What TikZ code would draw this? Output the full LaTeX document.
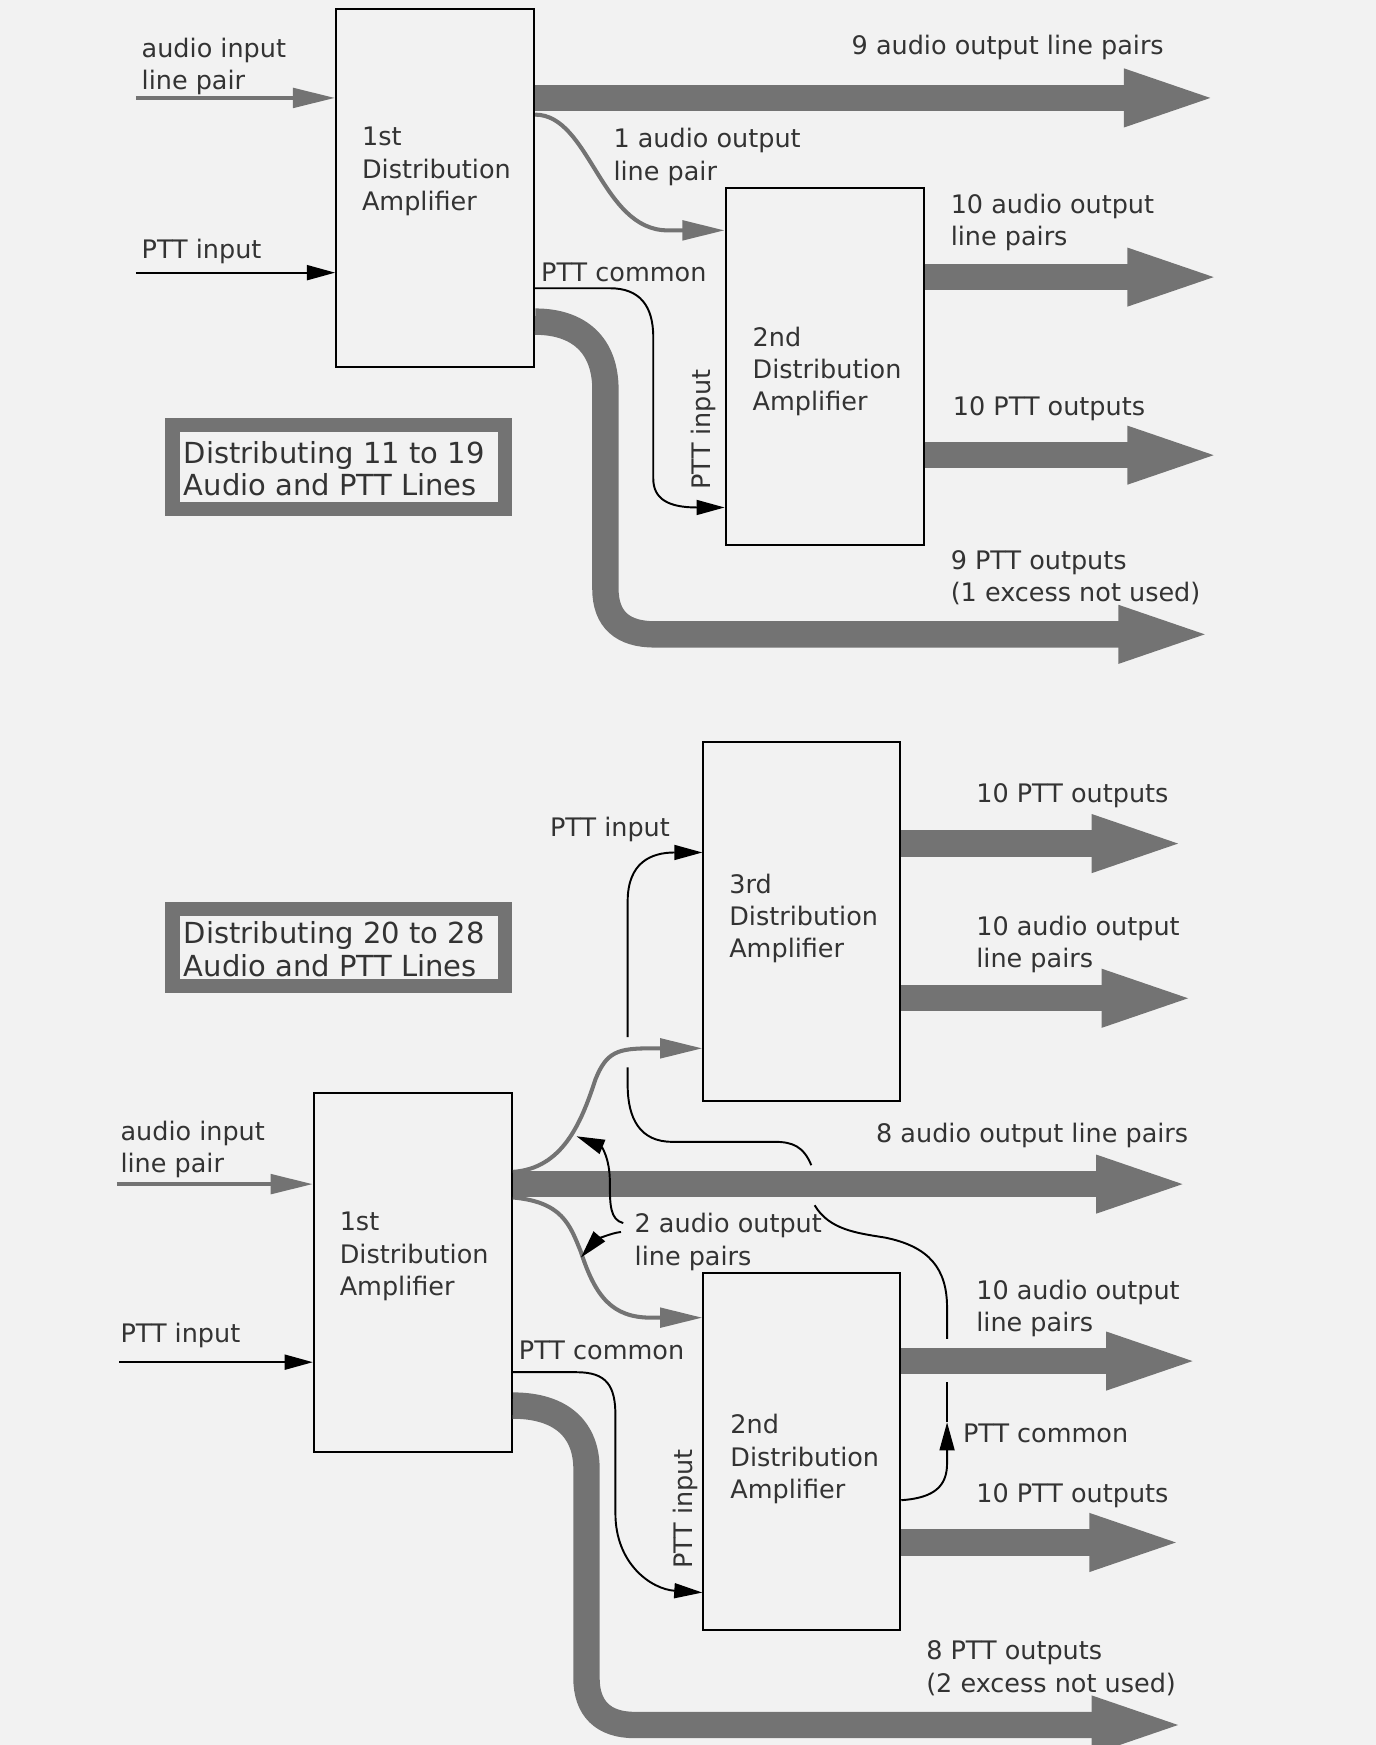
\documentclass[tikz,border=0pt]{standalone}
\usepackage{fontspec}
\setmainfont{DejaVu Sans}
\usetikzlibrary{arrows.meta, fit, positioning}
\definecolor{hatch}{gray}{0.45}
\definecolor{paper}{gray}{0.95}
\tikzset{
    x=0.02225cm, y=-0.02225cm, % one unit is one pixel of the sketch, y runs down
    dabox/.style={draw, line width=1.1pt, inner sep=0pt}, % the amplifier boxes
    lbl/.style={font=\fontsize{14.5}{18.3}\selectfont, text=black!80, align=left, inner sep=0pt, anchor=west},
    seltext/.style={font=\fontsize{16.5}{18.5}\selectfont, text=black!80, align=left, inner sep=0pt, anchor=west},
    selbox/.style={draw=hatch, line width=8pt, fill=paper, inner sep=0pt}, % framed titles
    wide/.style={draw=hatch, line width=15pt, -{Triangle[length=57pt, width=28pt]}}, % bundles
    thinhatch/.style={draw=hatch, line width=2.3pt, -{Triangle[length=24pt, width=11pt]}},
    sig/.style={draw, line width=1.1pt, -{Triangle[length=16pt, width=8.5pt]}}, % PTT lines
    wire/.style={draw, line width=1.1pt},
}

\begin{document}
\begin{tikzpicture}
\useasboundingbox (0,0) rectangle (1236,1568);
\fill[paper] (0,0) rectangle (1236,1568);

% first group: 11 to 19
\node[dabox, fit={(302,8) (480,330)}] (da1) {};
\node[dabox, fit={(652,169) (830,490)}] (da2) {};
\node[lbl] (da1t) at (325,154) {1st\\Distribution\\Amplifier};
\node[lbl] (da2t) at (676,334) {2nd\\Distribution\\Amplifier};
\node[selbox, fit={(155,382) (454,457)}] (sel1) {};
\node[seltext] (sel1t) at (165,421) {Distributing 11 to 19\\Audio and PTT Lines};

\node[lbl] (ain1) at (127,60) {audio input\\line pair};
\node[lbl] (pin1) at (127,226) {PTT input};
\node[lbl] (o9at) at (765,43) {9 audio output line pairs};
\node[lbl] (o1at) at (551,141) {1 audio output\\line pair};
\node[lbl] (pc1t) at (486,245) {PTT common};
\node[lbl, rotate=90, anchor=center] (pin2) at (632,386) {PTT input};
\node[lbl] (o10a2t) at (854,200) {10 audio output\\line pairs};
\node[lbl] (o10p2t) at (856,367) {10 PTT outputs};
\node[lbl] (o9pt) at (854,519) {9 PTT outputs\\(1 excess not used)};

\coordinate (ai1) at (122,88);
\coordinate (pi1) at (122,245);
\coordinate (o9a) at (1100,88);
\coordinate (o10a2) at (1103,249);
\coordinate (o10p2) at (1103,409);
\coordinate (o9p) at (1095,570);

\draw[wide] (da1.east |- 0,88) -- (o9a);
\draw[wide] (da2.east |- 0,249) -- (o10a2);
\draw[wide] (da2.east |- 0,409) -- (o10p2);
\draw[wide] (da1.east |- 0,289) .. controls (520,289) and (544,310) .. (544,350)
    -- (544,529) .. controls (544,557) and (560,570) .. (588,570) -- (o9p);
\draw[thinhatch] (ai1) -- (da1.west |- ai1);
\draw[thinhatch] (da1.east |- 0,103) .. controls (530,103) and (540,207) .. (600,207) -- (da2.west |- 0,207);
\draw[sig] (pi1) -- (da1.west |- pi1);
\draw[sig] (da1.east |- 0,259) -- (548,259) .. controls (575,259) and (587,275) .. (587,303)
    -- (587,430) .. controls (587,448) and (600,456) .. (da2.west |- 0,456);

% second group: 20 to 28
\node[dabox, fit={(632,667) (809,989)}] (da3) {};
\node[dabox, fit={(282,982) (460,1305)}] (da4) {};
\node[dabox, fit={(632,1144) (809,1465)}] (da5) {};
\node[lbl] (da3t) at (655,825) {3rd\\Distribution\\Amplifier};
\node[lbl] (da4t) at (305,1129) {1st\\Distribution\\Amplifier};
\node[lbl] (da5t) at (656,1311) {2nd\\Distribution\\Amplifier};
\node[selbox, fit={(155,817) (454,886)}] (sel2) {};
\node[seltext] (sel2t) at (165,853) {Distributing 20 to 28\\Audio and PTT Lines};

\node[lbl] (pin3) at (494,745) {PTT input};
\node[lbl] (o10p3t) at (877,715) {10 PTT outputs};
\node[lbl] (o10a3t) at (877,849) {10 audio output\\line pairs};
\node[lbl] (o8at) at (787,1020) {8 audio output line pairs};
\node[lbl] (ain4) at (108,1033) {audio input\\line pair};
\node[lbl] (pin4) at (108,1200) {PTT input};
\node[lbl] (o2at) at (570,1116) {2 audio output\\line pairs};
\node[lbl] (pc4t) at (466,1213) {PTT common};
\node[lbl] (o10a5t) at (877,1176) {10 audio output\\line pairs};
\node[lbl] (pc5t) at (865,1288) {PTT common};
\node[lbl] (o10p5t) at (877,1344) {10 PTT outputs};
\node[lbl, rotate=90, anchor=center] (pin5) at (616,1356) {PTT input};
\node[lbl] (o8pt) at (832,1499) {8 PTT outputs\\(2 excess not used)};

\coordinate (ai4) at (105,1064);
\coordinate (pi4) at (107,1224);
\coordinate (o8a) at (1075,1064);
\coordinate (o10p3) at (1071,758);
\coordinate (o10a3) at (1080,897);
\coordinate (o10a5) at (1084,1223);
\coordinate (o10p5) at (1069,1386);
\coordinate (o8p) at (1071,1550);
\coordinate (s2a) at (560,1099);
\coordinate (s2b) at (558,1107);
\coordinate (g1) at (851,1278);
\coordinate (g2) at (851,1242);
\coordinate (g3) at (851,1203);
\coordinate (g4) at (732,1083);
\coordinate (g5) at (729,1047);
\coordinate (g6) at (564,959);
\coordinate (g7) at (564,932);

\draw[wide] (da4.east |- 0,1064) -- (o8a);
\draw[wide] (da3.east |- 0,758) -- (o10p3);
\draw[wide] (da3.east |- 0,897) -- (o10a3);
\draw[wide] (da5.east |- 0,1223) -- (o10a5);
\draw[wide] (da5.east |- 0,1386) -- (o10p5);
\draw[wide] (da4.east |- 0,1263) .. controls (505,1263) and (527,1285) .. (527,1320)
    -- (527,1508) .. controls (527,1535) and (542,1550) .. (570,1550) -- (o8p);
\draw[thinhatch] (ai4) -- (da4.west |- ai4);
\draw[thinhatch] (da4.east |- 0,1053) .. controls (505,1050) and (522,1010) .. (535,970)
    .. controls (545,945) and (555,942) .. (585,942) -- (da3.west |- 0,942);
\draw[thinhatch] (da4.east |- 0,1076) .. controls (505,1080) and (512,1100) .. (522,1125)
    .. controls (535,1165) and (550,1184) .. (585,1184) -- (da5.west |- 0,1184);
\draw[sig] (pi4) -- (da4.west |- pi4);
\draw[sig] (da4.east |- 0,1233) -- (518,1233) .. controls (545,1233) and (553,1245) .. (553,1272)
    -- (553,1360) .. controls (553,1405) and (585,1428) .. (da5.west |- 0,1431);
\draw[sig] (s2a) .. controls (548,1096) and (548,1082) .. (548,1062)
    .. controls (548,1040) and (540,1030) .. (518,1021);
\draw[sig] (s2b) .. controls (548,1108) and (535,1115) .. (522,1130);

% PTT common of the 2nd amplifier back up to the 3rd
\draw[sig] (da5.east |- 0,1348) .. controls (840,1346) and (851,1335) .. (851,1315) -- (g1);
\draw[wire] (g1) -- (g2);
\draw[wire] (g3) -- (851,1175) .. controls (851,1140) and (835,1120) .. (795,1112)
    .. controls (770,1108) and (745,1105) .. (g4);
\draw[wire] (g5) .. controls (722,1030) and (712,1026) .. (696,1026) -- (604,1026)
    .. controls (575,1026) and (564,1005) .. (564,975) -- (g6);
\draw[sig] (g7) -- (564,810) .. controls (564,775) and (585,766) .. (da3.west |- 0,766);
\end{tikzpicture}
\end{document}
